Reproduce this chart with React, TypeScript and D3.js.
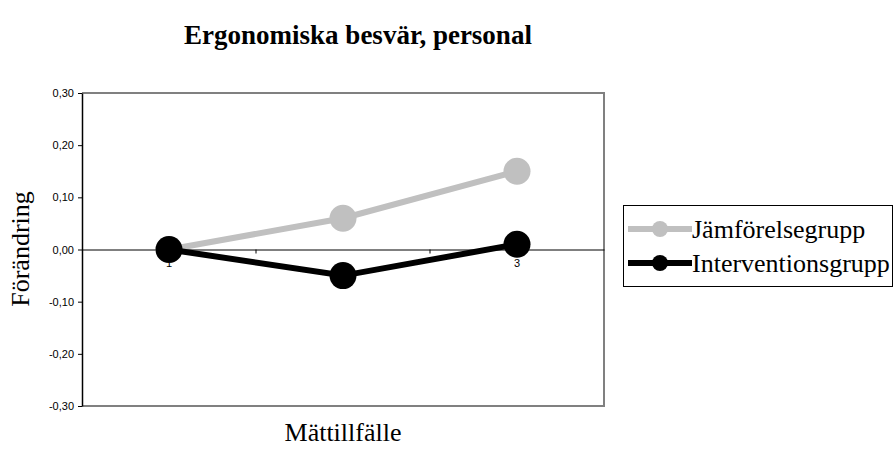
import { useEffect, useRef } from "react";
import * as d3 from "d3";

const categories = ["1", "2", "3"];
const categoryLabels = ["1", "", "3"];
const comparison = [0, 0.06, 0.15];
const intervention = [0, -0.05, 0.01];
const yTicks = [-0.3, -0.2, -0.1, 0, 0.1, 0.2, 0.3];
const seriesNames = ["Jämförelsegrupp", "Interventionsgrupp"];
const seriesColors = ["#c0c0c0", "#000000"];

const W = 894;
const H = 450;
const plot = { left: 82, top: 93, right: 604, bottom: 406 };
const serif = "'Liberation Serif', 'Times New Roman', serif";
const sans = "'Liberation Sans', Arial, sans-serif";

const App = () => {
  const svgRef = useRef<SVGSVGElement>(null);

  useEffect(() => {
    const svg = d3.select(svgRef.current);
    svg.selectAll("*").remove();

    const x = d3
      .scaleBand()
      .domain(categories)
      .range([plot.left, plot.right])
      .paddingInner(0)
      .paddingOuter(0);
    const y = d3.scaleLinear().domain([-0.3, 0.3]).range([plot.bottom, plot.top]);
    const fmt = (v: number) => d3.format(".2f")(v).replace(".", ",").replace("−", "-");

    // title
    svg
      .append("text")
      .attr("x", 358)
      .attr("y", 44)
      .attr("text-anchor", "middle")
      .style("font-family", serif)
      .style("font-weight", "bold")
      .style("font-size", "27px")
      .text("Ergonomiska besvär, personal");

    // plot frame (gray top/right/bottom)
    svg
      .append("path")
      .attr("d", `M${plot.left},${plot.top}H${plot.right}V${plot.bottom}H${plot.left}`)
      .attr("fill", "none")
      .attr("stroke", "#808080")
      .attr("stroke-width", 2);

    // y axis
    const yAxis = svg
      .append("g")
      .attr("transform", `translate(${plot.left},0)`)
      .call(
        d3
          .axisLeft(y)
          .tickValues(yTicks)
          .tickSize(4)
          .tickPadding(4)
          .tickSizeOuter(0)
          .tickFormat((d) => fmt(d as number))
      );
    yAxis.select(".domain").attr("stroke", "#000").attr("stroke-width", 1.5);
    yAxis
      .selectAll("text")
      .style("font-family", sans)
      .style("font-size", "11px")
      .attr("fill", "#000");

    // x axis at zero
    const xAxis = svg
      .append("g")
      .attr("transform", `translate(0,${y(0)})`)
      .call(d3.axisBottom(x).tickSize(0).tickFormat((d, i) => categoryLabels[i]));
    xAxis.select(".domain").attr("stroke", "#000");
    xAxis
      .selectAll("text")
      .attr("dy", "1.3em")
      .style("font-family", sans)
      .style("font-size", "11px")
      .attr("fill", "#000");
    // category boundary ticks
    svg
      .append("g")
      .selectAll("line")
      .data(categories.slice(1))
      .join("line")
      .attr("x1", (d) => x(d)!)
      .attr("x2", (d) => x(d)!)
      .attr("y1", y(0))
      .attr("y2", y(0) + 4)
      .attr("stroke", "#000");

    const cx = (d: string) => x(d)! + x.bandwidth() / 2;
    [comparison, intervention].forEach((vals, si) => {
      const pts = vals.map((v, i) => [cx(categories[i]), y(v)] as [number, number]);
      svg
        .append("path")
        .attr("d", d3.line()(pts))
        .attr("fill", "none")
        .attr("stroke", seriesColors[si])
        .attr("stroke-width", 6);
      svg
        .append("g")
        .selectAll("circle")
        .data(pts)
        .join("circle")
        .attr("cx", (d) => d[0])
        .attr("cy", (d) => d[1])
        .attr("r", 13.5)
        .attr("fill", seriesColors[si]);
    });

    // axis titles
    svg
      .append("text")
      .attr("transform", `translate(29,249) rotate(-90)`)
      .attr("text-anchor", "middle")
      .style("font-family", serif)
      .style("font-size", "26px")
      .text("Förändring");
    svg
      .append("text")
      .attr("x", 343)
      .attr("y", 441)
      .attr("text-anchor", "middle")
      .style("font-family", serif)
      .style("font-size", "26px")
      .text("Mättillfälle");

    // legend
    const lg = svg.append("g");
    lg.append("rect")
      .attr("x", 623.5)
      .attr("y", 205.5)
      .attr("width", 269)
      .attr("height", 81)
      .attr("fill", "#fff")
      .attr("stroke", "#000")
      .attr("stroke-width", 1);
    seriesNames.forEach((name, i) => {
      const ly = 229 + i * 34;
      lg.append("line")
        .attr("x1", 628)
        .attr("x2", 692)
        .attr("y1", ly)
        .attr("y2", ly)
        .attr("stroke", seriesColors[i])
        .attr("stroke-width", 6);
      lg.append("circle").attr("cx", 660).attr("cy", ly).attr("r", 8).attr("fill", seriesColors[i]);
      lg.append("text")
        .attr("x", 692)
        .attr("y", ly + 9)
        .style("font-family", serif)
        .style("font-size", "26px")
        .text(name);
    });
  }, []);

  return (
    <svg
      ref={svgRef}
      width={W}
      height={H}
      style={{ position: "absolute", left: 0, top: 0, background: "#fff" }}
    />
  );
};

export default App;
